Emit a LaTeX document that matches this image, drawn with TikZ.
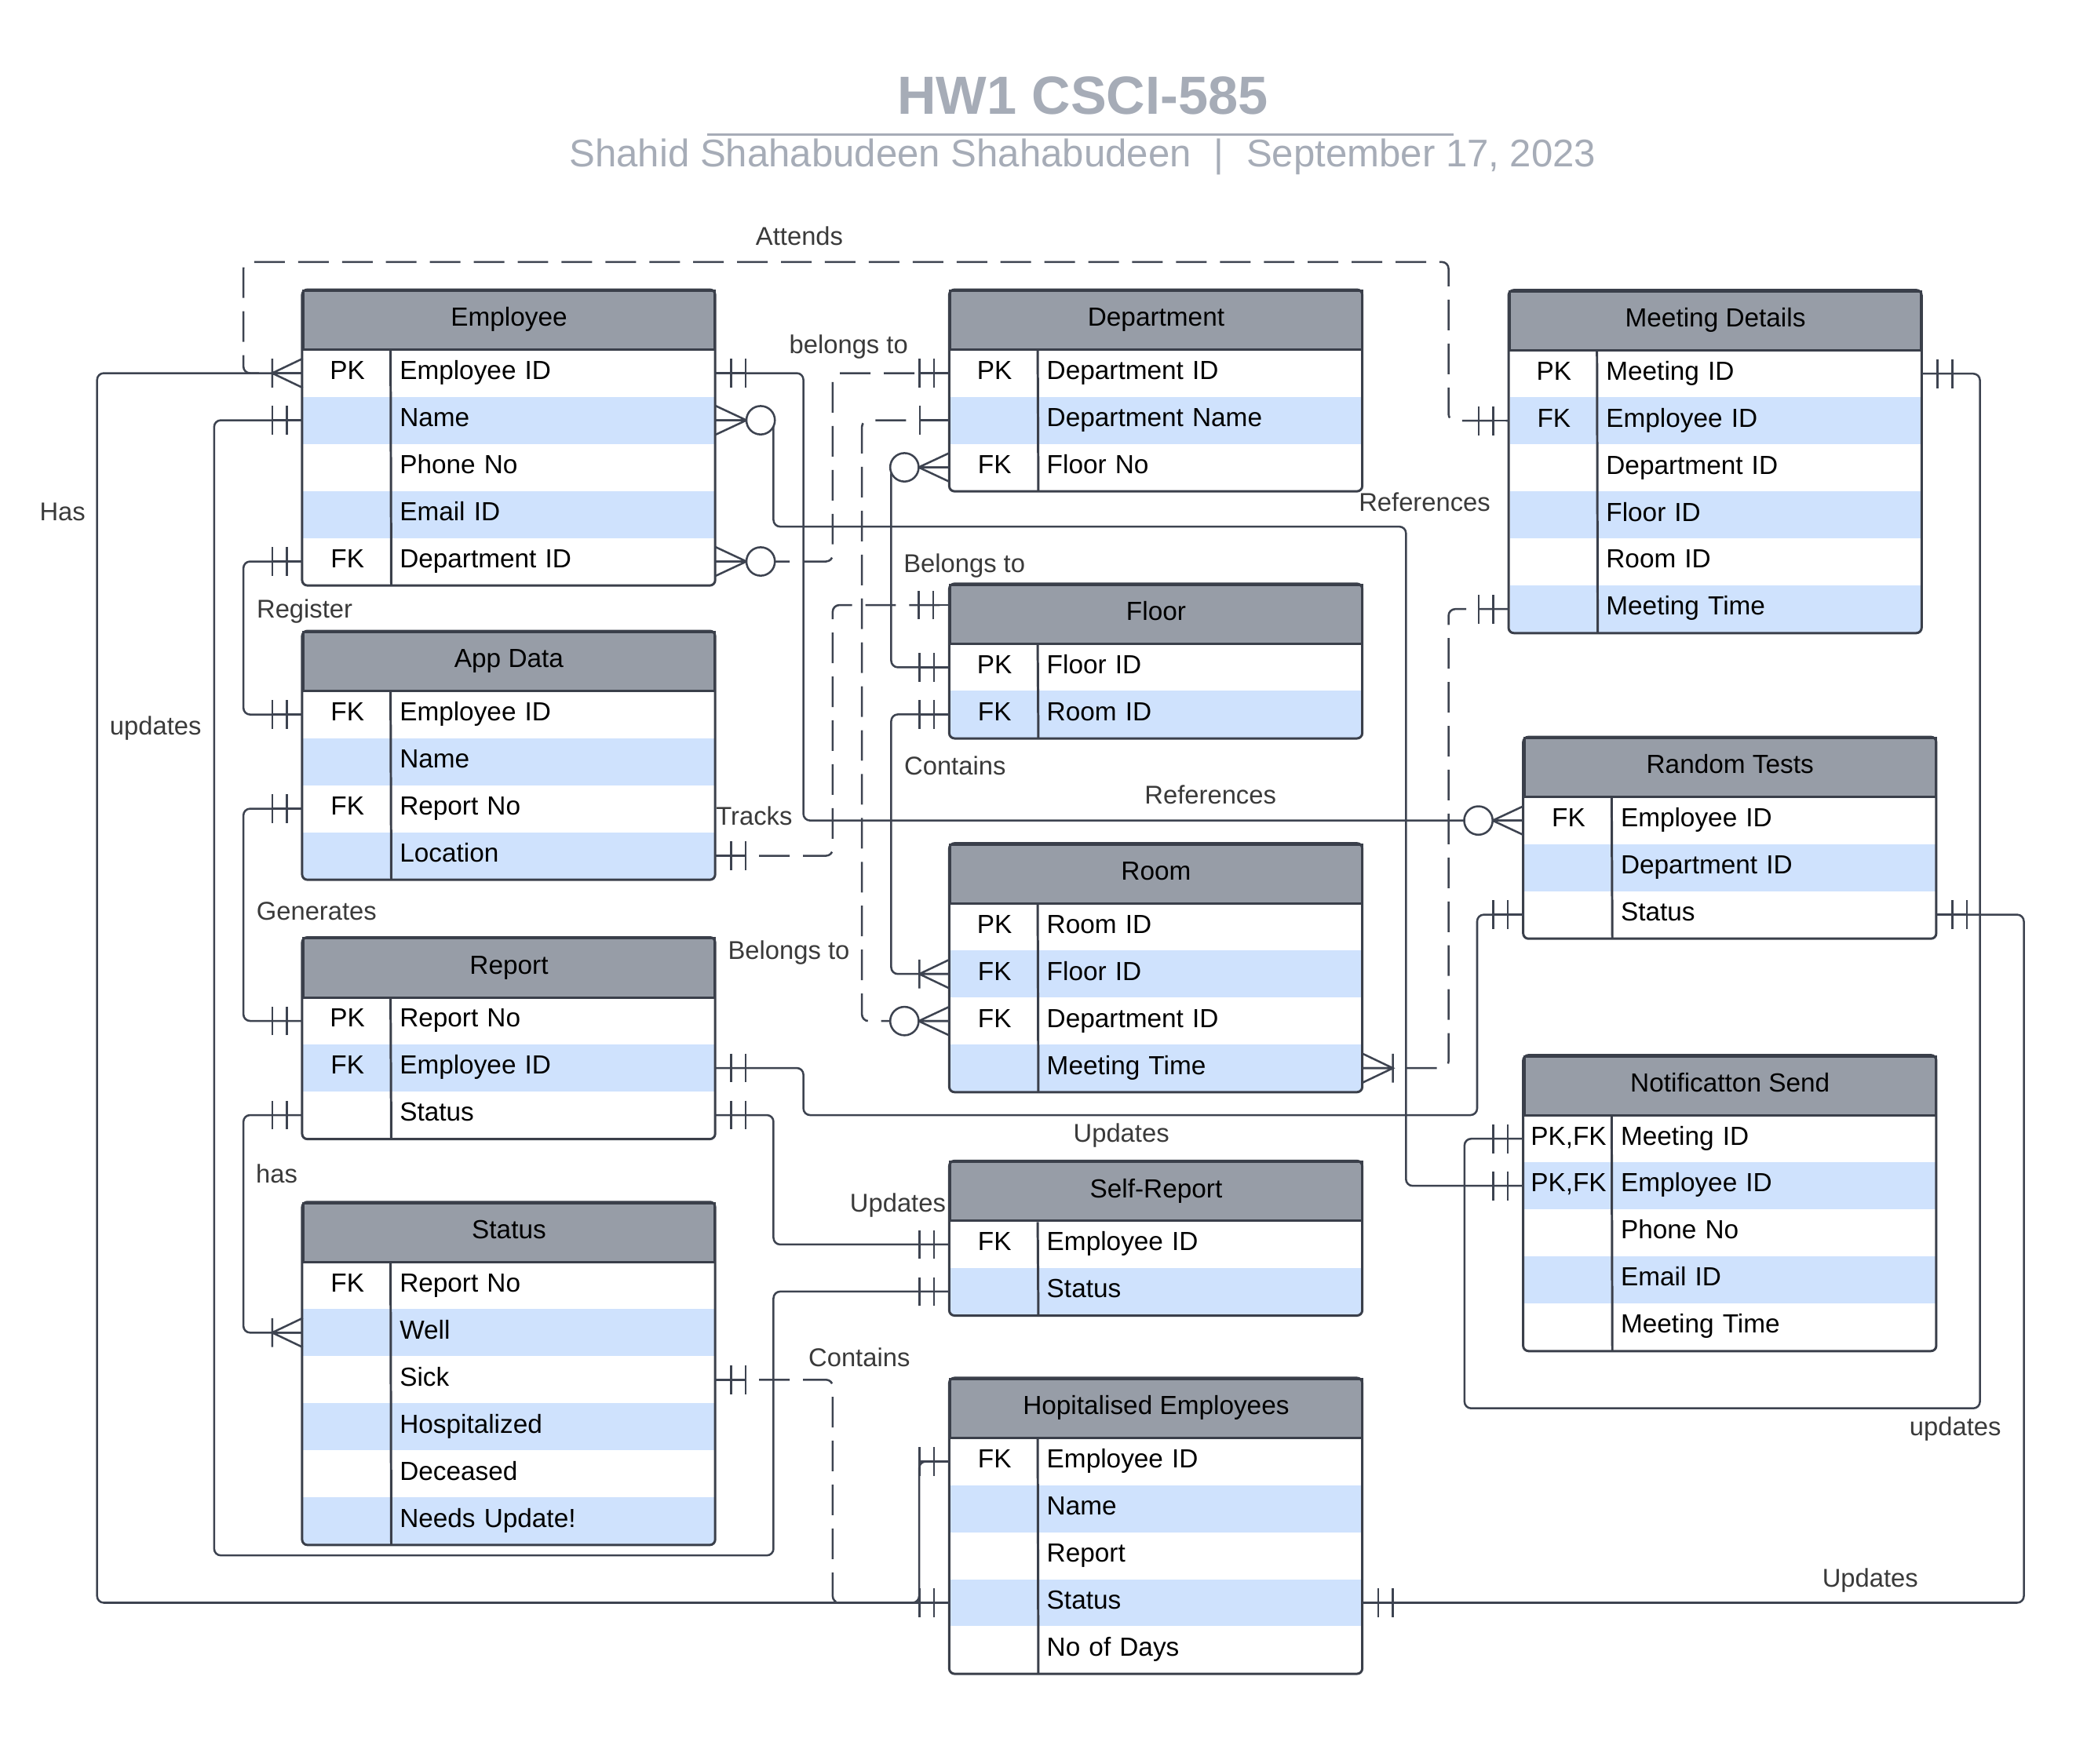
\documentclass[tikz,border=0pt]{standalone}
\usepackage{fontspec}
\setmainfont{Liberation Sans}
\definecolor{hdrgray}{HTML}{979DA7}
\definecolor{rowblue}{HTML}{CFE2FD}
\definecolor{edgec}{HTML}{3A3F4A}
\definecolor{wirec}{HTML}{3D4350}
\definecolor{lblgray}{HTML}{3A3A3A}
\definecolor{titlegray}{HTML}{A6ACB7}
\newcommand{\kf}[2]{\makebox[13.3mm]{#1}\hspace{1.2mm}#2}

\begin{document}
\begin{tikzpicture}[x=0.2mm,y=-0.2mm]
\tikzstyle{every node}=[inner sep=0pt,text height=3mm,text depth=1.16mm]
\tikzstyle{hdr}=[draw=edgec,line width=1pt,fill=hdrgray,minimum width=61.86mm,minimum height=8.86mm,font=\fontsize{11.2}{13}\selectfont]
\tikzstyle{row}=[minimum height=7.08mm,text width=61.86mm,align=left,font=\fontsize{11.2}{13}\selectfont]
\tikzstyle{brow}=[row,fill=rowblue]
\tikzstyle{frame}=[draw=edgec,line width=1pt,rounded corners=0.8mm]
\tikzstyle{link}=[draw=wirec,line width=0.85pt,rounded corners=1mm]
\tikzstyle{dlink}=[link,dash pattern=on 4.6mm off 2mm]
\tikzstyle{tip}=[draw=wirec,line width=0.85pt]
\tikzstyle{lbl}=[text=lblgray,font=\fontsize{11}{13}\selectfont]
\tikzset{
  erone/.pic={\draw[tip] (0,0)--(23,0) (12,-10.8)--(12,10.8) (23,-10.8)--(23,10.8);},
  erbar/.pic={\draw[tip] (0,0)--(22.5,0) (22.5,-10.8)--(22.5,10.8);},
  ermany/.pic={\draw[tip] (0,-11)--(23,0)--(0,11) (0,0)--(23,0) (23,-10.8)--(23,10.8);},
  erzmany/.pic={\draw[tip] (0,-11)--(23.5,0)--(0,11) (0,0)--(23.5,0);
                \draw[tip,fill=white] (34.2,0) circle[radius=2.14mm];}
}
\useasboundingbox (0,0) rectangle (1569,1326);

% title
\node[text=titlegray,font=\fontsize{23}{28}\selectfont\bfseries,anchor=base] (title) at (814,86) {HW1 CSCI-585};
\draw[titlegray,line width=1.1pt] (531.6,101) -- (1093,101);
\node[text=titlegray,font=\fontsize{16.5}{20}\selectfont,anchor=base] (subtitle) at (814,125.5) {Shahid Shahabudeen Shahabudeen\hspace{3.4mm}|\hspace{3.4mm}September 17, 2023};

% Employee
\node[hdr] (emp) at (382.65,240.8) {Employee};
\node[row] (emp1) at (382.65,280.6) {\kf{PK}{Employee ID}};
\node[brow] (emp2) at (382.65,316.0) {\kf{}{Name}};
\node[row] (emp3) at (382.65,351.4) {\kf{}{Phone No}};
\node[brow] (emp4) at (382.65,386.8) {\kf{}{Email ID}};
\node[row] (emp5) at (382.65,422.2) {\kf{FK}{Department ID}};
\draw[frame] (emp.north west) rectangle (emp5.south east);
\draw[frame] ([xshift=13.3mm]emp.south west) -- ([xshift=13.3mm]emp5.south west);

% App Data
\node[hdr] (app) at (382.65,497.45) {App Data};
\node[row] (app1) at (382.65,537.3) {\kf{FK}{Employee ID}};
\node[brow] (app2) at (382.65,572.7) {\kf{}{Name}};
\node[row] (app3) at (382.65,608.1) {\kf{FK}{Report No}};
\node[brow] (app4) at (382.65,643.5) {\kf{}{Location}};
\draw[frame] (app.north west) rectangle (app4.south east);
\draw[frame] ([xshift=13.3mm]app.south west) -- ([xshift=13.3mm]app4.south west);

% Report
\node[hdr] (rep) at (382.65,727.85) {Report};
\node[row] (rep1) at (382.65,767.7) {\kf{PK}{Report No}};
\node[brow] (rep2) at (382.65,803.1) {\kf{FK}{Employee ID}};
\node[row] (rep3) at (382.65,838.5) {\kf{}{Status}};
\draw[frame] (rep.north west) rectangle (rep3.south east);
\draw[frame] ([xshift=13.3mm]rep.south west) -- ([xshift=13.3mm]rep3.south west);

% Status
\node[hdr] (sta) at (382.65,926.85) {Status};
\node[row] (sta1) at (382.65,966.7) {\kf{FK}{Report No}};
\node[brow] (sta2) at (382.65,1002.1) {\kf{}{Well}};
\node[row] (sta3) at (382.65,1037.5) {\kf{}{Sick}};
\node[brow] (sta4) at (382.65,1072.9) {\kf{}{Hospitalized}};
\node[row] (sta5) at (382.65,1108.3) {\kf{}{Deceased}};
\node[brow] (sta6) at (382.65,1143.7) {\kf{}{Needs Update!}};
\draw[frame] (sta.north west) rectangle (sta6.south east);
\draw[frame] ([xshift=13.3mm]sta.south west) -- ([xshift=13.3mm]sta6.south west);

% Department
\node[hdr] (dep) at (869.15,240.8) {Department};
\node[row] (dep1) at (869.15,280.6) {\kf{PK}{Department ID}};
\node[brow] (dep2) at (869.15,316.0) {\kf{}{Department Name}};
\node[row] (dep3) at (869.15,351.4) {\kf{FK}{Floor No}};
\draw[frame] (dep.north west) rectangle (dep3.south east);
\draw[frame] ([xshift=13.3mm]dep.south west) -- ([xshift=13.3mm]dep3.south west);

% Floor
\node[hdr] (flo) at (869.15,461.95) {Floor};
\node[row] (flo1) at (869.15,501.8) {\kf{PK}{Floor ID}};
\node[brow] (flo2) at (869.15,537.2) {\kf{FK}{Room ID}};
\draw[frame] (flo.north west) rectangle (flo2.south east);
\draw[frame] ([xshift=13.3mm]flo.south west) -- ([xshift=13.3mm]flo2.south west);

% Room
\node[hdr] (roo) at (869.15,657.15) {Room};
\node[row] (roo1) at (869.15,697.0) {\kf{PK}{Room ID}};
\node[brow] (roo2) at (869.15,732.4) {\kf{FK}{Floor ID}};
\node[row] (roo3) at (869.15,767.8) {\kf{FK}{Department ID}};
\node[brow] (roo4) at (869.15,803.2) {\kf{}{Meeting Time}};
\draw[frame] (roo.north west) rectangle (roo4.south east);
\draw[frame] ([xshift=13.3mm]roo.south west) -- ([xshift=13.3mm]roo4.south west);

% Self-Report
\node[hdr] (sel) at (869.15,895.95) {Self-Report};
\node[row] (sel1) at (869.15,935.8) {\kf{FK}{Employee ID}};
\node[brow] (sel2) at (869.15,971.2) {\kf{}{Status}};
\draw[frame] (sel.north west) rectangle (sel2.south east);
\draw[frame] ([xshift=13.3mm]sel.south west) -- ([xshift=13.3mm]sel2.south west);

% Hopitalised Employees
\node[hdr] (hos) at (869.15,1059.15) {Hopitalised Employees};
\node[row] (hos1) at (869.15,1099.0) {\kf{FK}{Employee ID}};
\node[brow] (hos2) at (869.15,1134.4) {\kf{}{Name}};
\node[row] (hos3) at (869.15,1169.8) {\kf{}{Report}};
\node[brow] (hos4) at (869.15,1205.2) {\kf{}{Status}};
\node[row] (hos5) at (869.15,1240.6) {\kf{}{No of Days}};
\draw[frame] (hos.north west) rectangle (hos5.south east);
\draw[frame] ([xshift=13.3mm]hos.south west) -- ([xshift=13.3mm]hos5.south west);

% Meeting Details
\node[hdr] (mee) at (1289.65,241.15) {Meeting Details};
\node[row] (mee1) at (1289.65,281.0) {\kf{PK}{Meeting ID}};
\node[brow] (mee2) at (1289.65,316.4) {\kf{FK}{Employee ID}};
\node[row] (mee3) at (1289.65,351.8) {\kf{}{Department ID}};
\node[brow] (mee4) at (1289.65,387.2) {\kf{}{Floor ID}};
\node[row] (mee5) at (1289.65,422.6) {\kf{}{Room ID}};
\node[brow] (mee6) at (1289.65,458.0) {\kf{}{Meeting Time}};
\draw[frame] (mee.north west) rectangle (mee6.south east);
\draw[frame] ([xshift=13.3mm]mee.south west) -- ([xshift=13.3mm]mee6.south west);

% Random Tests
\node[hdr] (ran) at (1300.65,577.15) {Random Tests};
\node[row] (ran1) at (1300.65,617.0) {\kf{FK}{Employee ID}};
\node[brow] (ran2) at (1300.65,652.4) {\kf{}{Department ID}};
\node[row] (ran3) at (1300.65,687.8) {\kf{}{Status}};
\draw[frame] (ran.north west) rectangle (ran3.south east);
\draw[frame] ([xshift=13.3mm]ran.south west) -- ([xshift=13.3mm]ran3.south west);

% Notificatton Send
\node[hdr] (not) at (1300.65,816.45) {Notificatton Send};
\node[row] (not1) at (1300.65,856.3) {\kf{PK,FK}{Meeting ID}};
\node[brow] (not2) at (1300.65,891.7) {\kf{PK,FK}{Employee ID}};
\node[row] (not3) at (1300.65,927.1) {\kf{}{Phone No}};
\node[brow] (not4) at (1300.65,962.5) {\kf{}{Email ID}};
\node[row] (not5) at (1300.65,997.9) {\kf{}{Meeting Time}};
\draw[frame] (not.north west) rectangle (not5.south east);
\draw[frame] ([xshift=13.3mm]not.south west) -- ([xshift=13.3mm]not5.south west);

% relationships
\draw[dlink] (emp1.west) -| (183,197) -| (1089,316.4) -- (mee2.west);
\draw[link] (emp1.west) -| (73,1205.2) -| (691,1099) -- (hos1.west);
\draw[link] (emp1.east) -| (604,617) -- (ran1.west);
\draw[link] (emp2.west) -| (161,1169.6) -| (581.5,971.2) -- (sel2.west);
\draw[link] (emp2.east) -| (581.5,396) -| (1057,891.7) -- (not2.west);
\draw[dlink] (emp5.east) -| (626,280.6) -- (dep1.west);
\draw[link] (emp5.west) -| (183,537.3) -- (app1.west);
\draw[link] (app3.west) -| (183,767.7) -- (rep1.west);
\draw[dlink] (app4.east) -| (626,455) -- ([yshift=1.4mm]flo.west);
\draw[link] (rep3.west) -| (183,1002.1) -- (sta2.west);
\draw[link] (rep2.east) -| (604,838.5) -| (1110.5,687.8) -- (ran3.west);
\draw[link] (rep3.east) -| (581.5,935.8) -- (sel1.west);
\draw[dlink] (sta3.east) -| (626,1205.2) -- (hos4.west);
\draw[dlink] (dep2.west) -| (648,767.8) -- (roo3.west);
\draw[link] (dep3.west) -| (670,501.8) -- (flo1.west);
\draw[link] (flo2.west) -| (670,732.4) -- (roo2.west);
\draw[dlink] (roo4.east) -| (1089,458) -- (mee6.west);
\draw[link] (mee1.east) -| (1488.5,1059) -| (1101,856.3) -- (not1.west);
\draw[link] (ran3.east) -| (1521.5,1205.2) -- (hos4.east);

% ends
\pic[rotate=180] at (emp1.west) {ermany};
\pic at (emp1.east) {erone};
\pic[rotate=180] at (emp2.west) {erone};
\pic at (emp2.east) {erzmany};
\pic[rotate=180] at (emp5.west) {erone};
\pic at (emp5.east) {erzmany};
\pic[rotate=180] at (app1.west) {erone};
\pic[rotate=180] at (app3.west) {erone};
\pic at (app4.east) {erone};
\pic[rotate=180] at (rep1.west) {erone};
\pic at (rep2.east) {erone};
\pic[rotate=180] at (rep3.west) {erone};
\pic at (rep3.east) {erone};
\pic[rotate=180] at (sta2.west) {ermany};
\pic at (sta3.east) {erone};
\pic[rotate=180] at (dep1.west) {erone};
\pic[rotate=180] at (dep2.west) {erbar};
\pic[rotate=180] at (dep3.west) {erzmany};
\pic[rotate=180] at ([yshift=1.4mm]flo.west) {erone};
\pic[rotate=180] at (flo1.west) {erone};
\pic[rotate=180] at (flo2.west) {erone};
\pic[rotate=180] at (roo2.west) {ermany};
\pic[rotate=180] at (roo3.west) {erzmany};
\pic at (roo4.east) {ermany};
\pic[rotate=180] at (sel1.west) {erone};
\pic[rotate=180] at (sel2.west) {erone};
\pic[rotate=180] at (hos1.west) {erone};
\pic[rotate=180] at (hos4.west) {erone};
\pic at (hos4.east) {erone};
\pic[rotate=180] at (mee2.west) {erone};
\pic[rotate=180] at (mee6.west) {erone};
\pic at (mee1.east) {erone};
\pic[rotate=180] at (ran1.west) {erzmany};
\pic[rotate=180] at (ran3.west) {erone};
\pic at (ran3.east) {erone};
\pic[rotate=180] at (not1.west) {erone};
\pic[rotate=180] at (not2.west) {erone};

% labels
\node[lbl] (tattends) at (601,180) {Attends};
\node[lbl] (tbelongsA) at (638,261) {belongs to};
\node[lbl] (thasA) at (47,387) {Has};
\node[lbl] (trefA) at (1071,380) {References};
\node[lbl] (tbelongsB) at (725,426) {Belongs to};
\node[lbl] (tregister) at (229,460) {Register};
\node[lbl] (tupdatesA) at (117,548) {updates};
\node[lbl] (tcontainsA) at (718,578) {Contains};
\node[lbl] (trefB) at (910,600) {References};
\node[lbl] (ttracks) at (567,616) {Tracks};
\node[lbl] (tgenerates) at (238,687) {Generates};
\node[lbl] (tbelongsC) at (593,717) {Belongs to};
\node[lbl] (tupdatesB) at (843,854) {Updates};
\node[lbl] (thasB) at (208,885) {has};
\node[lbl] (tupdatesC) at (675,907) {Updates};
\node[lbl] (tcontainsB) at (646,1023) {Contains};
\node[lbl] (tupdatesD) at (1470,1075) {updates};
\node[lbl] (tupdatesE) at (1406,1189) {Updates};
\end{tikzpicture}
\end{document}
